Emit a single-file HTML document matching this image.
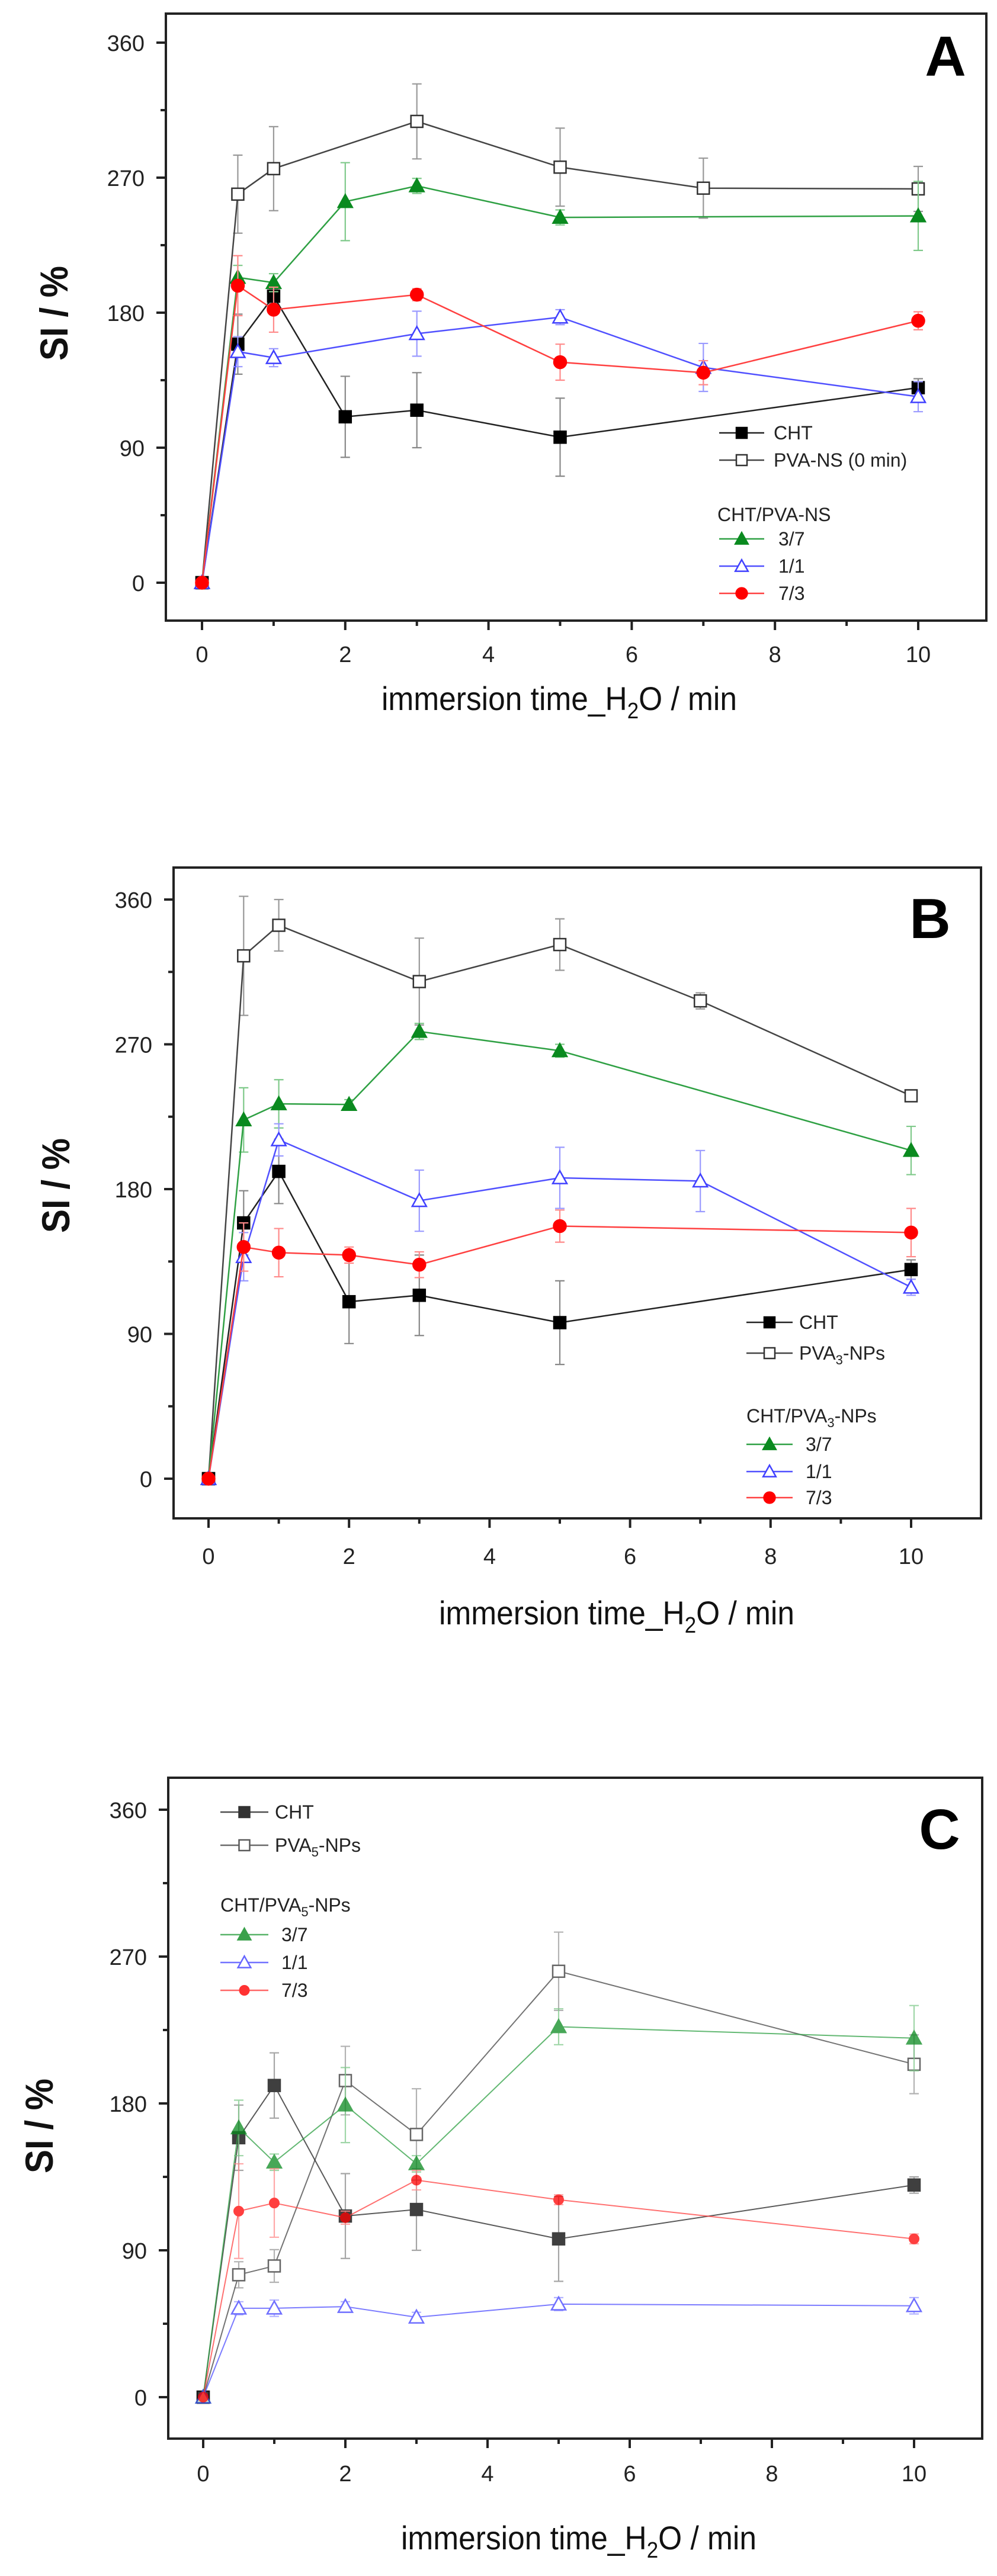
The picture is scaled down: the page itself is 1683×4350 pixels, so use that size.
<!DOCTYPE html>
<html><head><meta charset="utf-8">
<style>
html,body{margin:0;padding:0;background:#fff;}
svg{display:block;}
text{font-family:"Liberation Sans",sans-serif;}
</style></head>
<body>
<svg id="s" xmlns="http://www.w3.org/2000/svg" width="1683" height="4350" viewBox="0 0 1683 4350"></svg>
<script>
const S=document.getElementById('s');
let out='';
const C={
 CHT:{line:'#222',stroke:'#000',fill:'#000',shape:'sq',err:'#888'},
 PVA:{line:'#444',stroke:'#333',fill:'#fff',shape:'sq',err:'#999'},
 G:{line:'#2ea043',stroke:'#0a8a1f',fill:'#0a8a1f',shape:'tri',err:'#7fc98a'},
 B:{line:'#5050ff',stroke:'#4040ff',fill:'#fff',shape:'tri',err:'#9a9aff'},
 R:{line:'#ff4040',stroke:'#f00',fill:'#f00',shape:'circ',err:'#ff8a8a'}
};
function marker(x,y,st,sz){
 sz=sz||1;
 if(st.shape==='sq'){const h=10*sz;return `<rect x="${x-h}" y="${y-h}" width="${2*h}" height="${2*h}" fill="${st.fill}" stroke="${st.stroke}" stroke-width="2.5"/>`;}
 if(st.shape==='tri'){const h=12*sz;return `<polygon points="${x},${y-h} ${x+h},${y+h*0.8} ${x-h},${y+h*0.8}" fill="${st.fill}" stroke="${st.stroke}" stroke-width="2.5"/>`;}
 return `<circle cx="${x}" cy="${y}" r="${11*sz}" fill="${st.fill}" stroke="${st.stroke}" stroke-width="1.5"/>`;
}
function panel(p){
 const X=v=>p.x0+(p.x10-p.x0)*v/10, Y=v=>p.y0+(p.y360-p.y0)*v/360;
 const f=p.f;
 // series
 for(const s of p.series){
  const st=C[s.k];
  const op=p.light?0.75:1;
  out+=`<g opacity="${op}">`;
  // error bars
  s.d.forEach(([x,v,e])=>{ if(e){const xx=X(x);out+=`<path d="M${xx} ${Y(v+e)}V${Y(v-e)}M${xx-8} ${Y(v+e)}h16M${xx-8} ${Y(v-e)}h16" stroke="${st.err}" stroke-width="2.2" fill="none"/>`;}});
  out+=`<polyline points="${s.d.map(([x,v])=>X(x)+','+Y(v)).join(' ')}" fill="none" stroke="${st.line}" stroke-width="${p.light?2:2.5}"/>`;
  s.d.forEach(([x,v])=>{out+=marker(X(x),Y(v),st,(s.k==='R'&&p.light)?0.75:1);});
  out+=`</g>`;
 }
 // frame
 out+=`<rect x="${f.l}" y="${f.t}" width="${f.r-f.l}" height="${f.b-f.t}" fill="none" stroke="#222" stroke-width="4"/>`;
 // y ticks
 for(let v=0;v<=360;v+=45){const y=Y(v);const maj=v%90===0;out+=`<line x1="${f.l-(maj?16:9)}" y1="${y}" x2="${f.l}" y2="${y}" stroke="#222" stroke-width="4"/>`;
  if(maj)out+=`<text x="${f.l-36}" y="${y+14}" font-size="38" text-anchor="end" fill="#222">${v}</text>`;}
 for(let v=0;v<=11;v++){const x=X(v);if(x>f.r)break;const maj=v%2===0;out+=`<line x1="${x}" y1="${f.b}" x2="${x}" y2="${f.b+(maj?16:9)}" stroke="#222" stroke-width="4"/>`;
  if(maj)out+=`<text x="${x}" y="${p.tly+14}" font-size="38" text-anchor="middle" fill="#222">${v}</text>`;}
 // axis labels
 out+=`<text x="${p.xlx}" y="${p.xly+20}" font-size="56" text-anchor="middle" fill="#111" textLength="600" lengthAdjust="spacingAndGlyphs">immersion time_H<tspan font-size="38" dy="14">2</tspan><tspan dy="-14">O / min</tspan></text>`;
 out+=`<text transform="translate(${p.ylx+22},${p.yly}) rotate(-90)" font-size="66" font-weight="bold" text-anchor="middle" fill="#111" textLength="160" lengthAdjust="spacingAndGlyphs">SI / %</text>`;
 out+=`<text x="${p.lx}" y="${p.ly+34}" font-size="96" font-weight="bold" text-anchor="middle" fill="#000">${p.letter}</text>`;
 // legend
 const L=p.leg;
 L.items.forEach(it=>{const st=C[it.k];out+=`<g opacity="${p.light?0.8:1}"><line x1="${L.lx1}" y1="${it.y}" x2="${L.lx2}" y2="${it.y}" stroke="${st.line}" stroke-width="2.5"/>${marker((L.lx1+L.lx2)/2,it.y,st,(it.k==='R'&&p.light)?0.75:0.9)}</g><text x="${it.tx}" y="${it.y+11}" font-size="32" fill="#222">${it.t}</text>`;});
 out+=`<text x="${L.hx}" y="${L.hy+11}" font-size="32" fill="#222">${L.h}</text>`;
}
const sub=n=>`<tspan font-size="22" dy="8">${n}</tspan><tspan dy="-8">`;
// Panel A
panel({f:{l:280,r:1665,t:23,b:1048},x0:341,x10:1550,y0:984,y360:72,tly:1104,xlx:944,xly:1179,ylx:92,yly:529,lx:1596,ly:94,letter:'A',
 series:[
  {k:'PVA',d:[[0,0],[0.5,259,26],[1,276,28],[3,307.5,25],[5,277,26],[7,263,20],[10,262.5,15]]},
  {k:'CHT',d:[[0,0],[0.5,159,20],[1,191,5],[2,110.6,27],[3,115,25],[5,97,26],[10,130,6]]},
  {k:'G',d:[[0,0],[0.5,203.5,8],[1,200,6],[2,254,26],[3,264.5,5],[5,243.5,5],[10,244.5,23]]},
  {k:'B',d:[[0,0],[0.5,154,10],[1,150,6],[3,166,15],[5,177,5],[7,143.5,16],[10,124,10]]},
  {k:'R',d:[[0,0],[0.5,198,20],[1,182,15],[3,192,4],[5,147,12],[7,140,8],[10,174.6,6]]}],
 leg:{lx1:1214,lx2:1290,hx:1211,hy:869,h:'CHT/PVA-NS',items:[
  {k:'CHT',y:731,tx:1306,t:'CHT'},{k:'PVA',y:777,tx:1306,t:'PVA-NS (0 min)'},
  {k:'G',y:910,tx:1314,t:'3/7'},{k:'B',y:956,tx:1314,t:'1/1'},{k:'R',y:1002,tx:1314,t:'7/3'}]}});
// Panel B
panel({f:{l:293,r:1656,t:1465,b:2564},x0:352,x10:1538,y0:2497,y360:1519,tly:2627,xlx:1041,xly:2723,ylx:95,yly:2002,lx:1570,ly:1550,letter:'B',
 series:[
  {k:'PVA',d:[[0,0],[0.5,325,37],[1,344,16],[3,309,27],[5,332,16],[7,297,5],[10,238,3]]},
  {k:'CHT',d:[[0,0],[0.5,159,20],[1,191,20],[2,110,26],[3,114,25],[5,97,26],[10,130,6]]},
  {k:'G',d:[[0,0],[0.5,223,20],[1,233,15],[2,232.6,3],[3,278,5],[5,266,4],[10,204,15]]},
  {k:'B',d:[[0,0],[0.5,138,15],[1,210.6,10],[3,172.8,19],[5,187,19],[7,185,19],[10,119,5]]},
  {k:'R',d:[[0,0],[0.5,144,15],[1,140.5,15],[2,139,5],[3,133,8],[5,157,10],[10,153,15]]}],
 leg:{lx1:1260,lx2:1338,hx:1260,hy:2391,h:'CHT/PVA'+sub(3)+'-NPs</tspan>',items:[
  {k:'CHT',y:2233,tx:1349,t:'CHT'},{k:'PVA',y:2285,tx:1349,t:'PVA'+sub(3)+'-NPs</tspan>'},
  {k:'G',y:2439,tx:1360,t:'3/7'},{k:'B',y:2485,tx:1360,t:'1/1'},{k:'R',y:2529,tx:1360,t:'7/3'}]}});
// Panel C
panel({f:{l:284,r:1658,t:3002,b:4118},x0:343,x10:1543,y0:4048,y360:3056,tly:4176,xlx:977,xly:4285,ylx:67,yly:3590,lx:1586,ly:3088,letter:'C',light:true,
 series:[
  {k:'PVA',d:[[0,0],[0.5,75,8],[1,80.4,10],[2,194,21],[3,161,28],[5,261,24],[10,204,18]]},
  {k:'CHT',d:[[0,0],[0.5,159,20],[1,191,20],[2,111,26],[3,115,25],[5,97,26],[10,130,5]]},
  {k:'G',d:[[0,0],[0.5,165,17],[1,144,5],[2,179,23],[3,143,5],[5,227,11],[10,220,20]]},
  {k:'B',d:[[0,0],[0.5,54.5,4],[1,54.5,5],[2,55.5,3],[3,49,3],[5,57,4],[10,56,5]]},
  {k:'R',d:[[0,0],[0.5,114,29],[1,119,21],[2,110,4],[3,133,6],[5,121,3],[10,97,3]]}],
 leg:{lx1:372,lx2:453,hx:372,hy:3217,h:'CHT/PVA'+sub(5)+'-NPs</tspan>',items:[
  {k:'CHT',y:3060,tx:464,t:'CHT'},{k:'PVA',y:3116,tx:464,t:'PVA'+sub(5)+'-NPs</tspan>'},
  {k:'G',y:3267,tx:475,t:'3/7'},{k:'B',y:3314,tx:475,t:'1/1'},{k:'R',y:3361,tx:475,t:'7/3'}]}});
S.innerHTML=out;
</script>
</body></html>
